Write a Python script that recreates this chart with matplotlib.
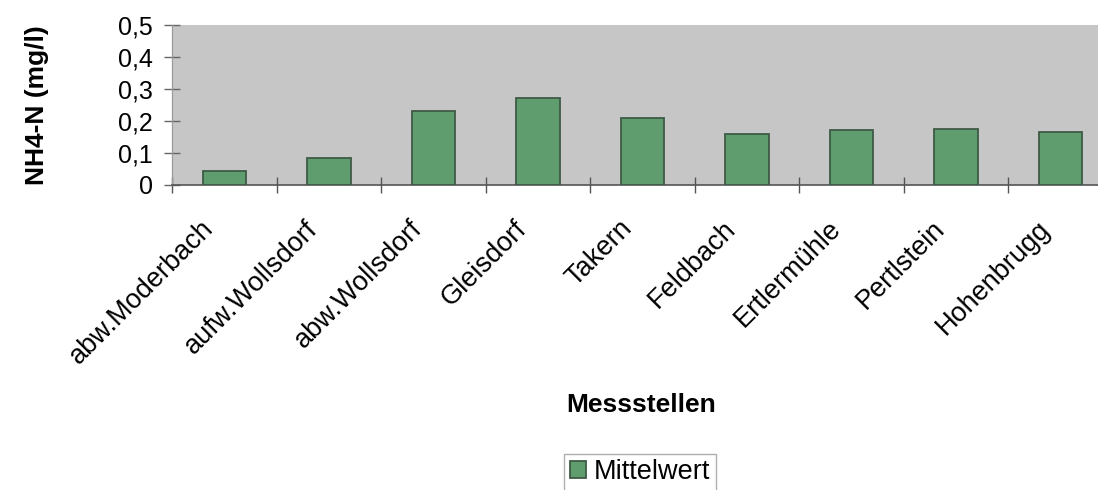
import matplotlib
matplotlib.use("Agg")
import matplotlib.pyplot as plt
from matplotlib.transforms import ScaledTranslation
import numpy as np

plt.rcParams['font.family'] = ['Liberation Sans', 'DejaVu Sans']

# Messstellen und Mittelwerte NH4-N (mg/l)
stations = ["abw.Moderbach", "aufw.Wollsdorf", "abw.Wollsdorf", "Gleisdorf",
            "Takern", "Feldbach", "Ertlermühle", "Pertlstein", "Hohenbrugg"]
mean_values = [0.045, 0.085, 0.232, 0.271, 0.210, 0.158, 0.172, 0.174, 0.167]
y_ticks = [0.0, 0.1, 0.2, 0.3, 0.4, 0.5]
y_tick_labels = ["0", "0,1", "0,2", "0,3", "0,4", "0,5"]
series_name = "Mittelwert"

W, H, DPI = 1098, 490, 100
fig = plt.figure(figsize=(W / DPI, H / DPI), dpi=DPI)
fig.patch.set_facecolor("white")

# plot area in pixel terms (extends slightly beyond the right border)
left_px, right_px, top_px, bottom_px = 172, 1113, 25, 185
ax = fig.add_axes([left_px / W, 1 - bottom_px / H,
                   (right_px - left_px) / W, (bottom_px - top_px) / H])
ax.set_facecolor("#c6c6c6")

x = np.arange(len(stations))
ax.bar(x, mean_values, width=0.415, color="#5f9d6f",
       edgecolor="#3e5a47", linewidth=1.3, label=series_name, zorder=3)

ax.set_xlim(-0.5, len(stations) - 0.5)
ax.set_ylim(0, 0.5)

for s in ["top", "right"]:
    ax.spines[s].set_visible(False)
ax.spines["bottom"].set_color("#555555")
ax.spines["bottom"].set_linewidth(1.2)
ax.spines["left"].set_color("#9a9a9a")
ax.spines["left"].set_linewidth(0.9)

# y axis
ax.set_yticks(y_ticks)
ax.set_yticklabels(y_tick_labels, fontsize=18)
ax.tick_params(axis="y", direction="inout", length=11.5, width=1.0,
               color="#666666", pad=8)

# x axis: labels at category centres, tick marks at category boundaries
ax.set_xticks(x)
ax.set_xticklabels(stations, fontsize=19.5, rotation=45,
                   ha="right", va="top", rotation_mode="anchor")
ax.tick_params(axis="x", which="major", length=0, pad=22)
ax.set_xticks(np.arange(-0.5, len(stations), 1.0), minor=True)
ax.tick_params(axis="x", which="minor", direction="inout", length=11.5,
               width=1.0, color="#555555")
shift = ScaledTranslation(-24 / DPI, 0, fig.dpi_scale_trans)
for lab in ax.get_xticklabels():
    lab.set_transform(lab.get_transform() + shift)

# axis titles
ax.set_ylabel("NH4-N (mg/l)", fontsize=19, fontweight="bold",
              ha="center", va="center")
ax.yaxis.set_label_coords((37 - left_px) / (right_px - left_px), 0.5)
fig.text(641 / W, 1 - 405 / H, "Messstellen", fontsize=19, fontweight="bold",
         ha="center", va="center")

# legend below the chart
leg = fig.legend(loc="upper center", bbox_to_anchor=(640 / W, 1 - 454 / H),
                 fontsize=19.5, frameon=True, fancybox=False, shadow=False,
                 handlelength=0.6, handleheight=0.6, handletextpad=0.3,
                 borderpad=0.2, borderaxespad=0)
leg.get_frame().set_edgecolor("#9a9a9a")
leg.get_frame().set_linewidth(1.0)

fig.savefig("out.png", dpi=DPI)
